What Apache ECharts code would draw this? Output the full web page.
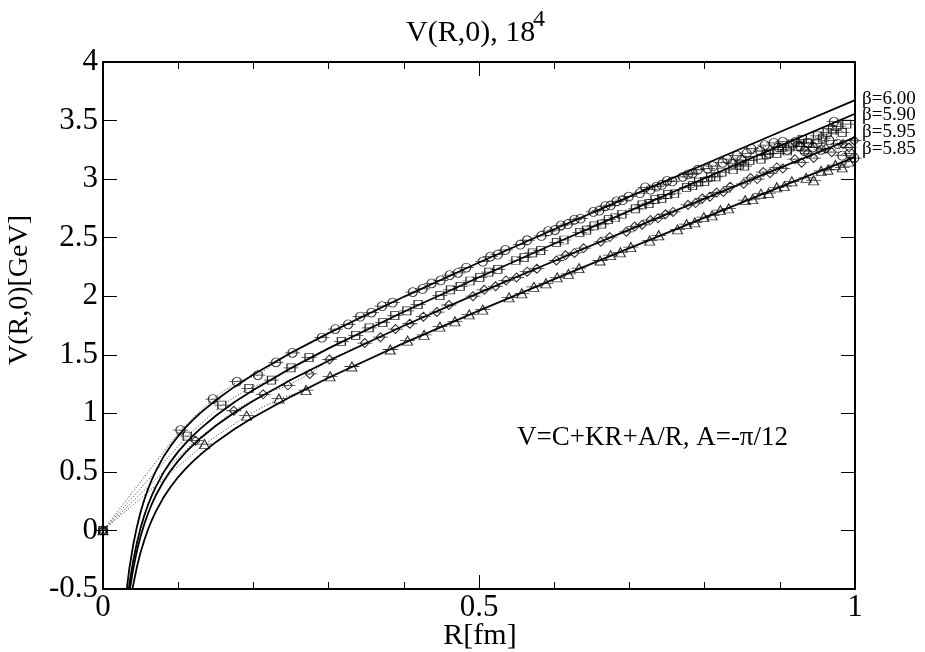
<!DOCTYPE html>
<html><head><meta charset="utf-8">
<script src="https://cdn.jsdelivr.net/npm/echarts@6/dist/echarts.min.js"></script>
<style>html,body{margin:0;padding:0;background:#fff}#c{width:925px;height:652px}</style>
</head><body><div id="c"></div>
<script>
// ---- tick labels / text ----
const xTicks = [0, 0.5, 1];
const yTicks = [-0.5, 0, 0.5, 1, 1.5, 2, 2.5, 3, 3.5, 4];
const seriesNames = ['β=6.00', 'β=5.90', 'β=5.95', 'β=5.85'];

// ---- fit curves V=C+KR+A/R ----
const fitR   = [0.03,0.035,0.04,0.045,0.05,0.055,0.06,0.065,0.07,0.08,0.09,0.1,0.11,0.12,0.13,0.15,0.175,0.2,0.25,0.3,0.4,0.5,0.6,0.7,0.8,0.9,1.0];
const fit600 = [-0.586,-0.326,-0.129,0.028,0.157,0.264,0.355,0.435,0.505,0.624,0.722,0.807,0.880,0.946,1.006,1.112,1.228,1.332,1.517,1.685,1.995,2.288,2.572,2.851,3.127,3.402,3.674];
const fit590 = [-0.721,-0.462,-0.264,-0.107,0.022,0.129,0.221,0.300,0.370,0.490,0.588,0.673,0.746,0.812,0.872,0.979,1.096,1.200,1.386,1.555,1.867,2.162,2.448,2.729,3.007,3.284,3.558];
const fit595 = [-0.790,-0.531,-0.334,-0.178,-0.050,0.056,0.147,0.226,0.296,0.414,0.511,0.594,0.666,0.731,0.790,0.894,1.007,1.108,1.287,1.449,1.748,2.029,2.301,2.569,2.834,3.096,3.357];
const fit585 = [-0.926,-0.668,-0.471,-0.314,-0.187,-0.081,0.010,0.089,0.159,0.276,0.373,0.456,0.528,0.592,0.650,0.754,0.866,0.966,1.143,1.304,1.599,1.877,2.146,2.410,2.671,2.931,3.188];

// ---- data points [R, V] ----
const data600 = [[0,0],[0.103,0.857],[0.146,1.122],[0.178,1.27],[0.206,1.327],[0.230,1.435],[0.252,1.517],[0.291,1.646],[0.309,1.72],[0.326,1.76],[0.342,1.825],[0.357,1.86],[0.371,1.915],[0.385,1.945],[0.412,2.035],[0.425,2.062],[0.437,2.11],[0.449,2.135],[0.461,2.18],[0.472,2.20],[0.483,2.245],[0.505,2.295],[0.515,2.338],[0.525,2.355],[0.535,2.395],[0.555,2.44],[0.564,2.478],[0.583,2.515],[0.592,2.555],[0.601,2.565],[0.609,2.605],[0.618,2.615],[0.627,2.655],[0.635,2.662],[0.652,2.72],[0.660,2.73],[0.668,2.77],[0.675,2.775],[0.683,2.81],[0.691,2.82],[0.699,2.85],[0.714,2.88],[0.721,2.93],[0.728,2.91],[0.736,2.935],[0.743,2.95],[0.750,2.985],[0.757,2.98],[0.771,3.02],[0.778,3.04],[0.784,3.05],[0.791,3.08],[0.804,3.09],[0.811,3.11],[0.824,3.14],[0.830,3.17],[0.837,3.13],[0.843,3.20],[0.849,3.163],[0.856,3.22],[0.862,3.26],[0.874,3.24],[0.880,3.29],[0.886,3.22],[0.892,3.31],[0.898,3.27],[0.904,3.32],[0.910,3.25],[0.921,3.32],[0.927,3.28],[0.933,3.24],[0.938,3.31],[0.944,3.27],[0.950,3.306],[0.955,3.25],[0.966,3.33],[0.972,3.49],[0.977,3.30],[0.983,3.20],[0.993,3.22],[0.999,3.18]];
const data590 = [[0,0],[0.112,0.806],[0.158,1.071],[0.194,1.213],[0.224,1.284],[0.250,1.389],[0.274,1.475],[0.317,1.615],[0.336,1.665],[0.354,1.73],[0.372,1.775],[0.388,1.835],[0.404,1.875],[0.419,1.93],[0.448,2.005],[0.462,2.055],[0.475,2.085],[0.488,2.13],[0.501,2.16],[0.513,2.205],[0.525,2.23],[0.549,2.305],[0.560,2.33],[0.571,2.37],[0.582,2.39],[0.603,2.46],[0.613,2.48],[0.634,2.545],[0.643,2.565],[0.653,2.60],[0.663,2.615],[0.672,2.655],[0.681,2.67],[0.690,2.70],[0.708,2.745],[0.717,2.78],[0.726,2.79],[0.734,2.825],[0.743,2.835],[0.751,2.87],[0.760,2.875],[0.776,2.93],[0.784,2.945],[0.792,2.975],[0.800,2.98],[0.808,3.02],[0.815,3.02],[0.823,3.06],[0.838,3.08],[0.846,3.12],[0.853,3.11],[0.860,3.16],[0.875,3.17],[0.882,3.21],[0.896,3.22],[0.903,3.27],[0.910,3.24],[0.917,3.30],[0.924,3.28],[0.930,3.34],[0.937,3.31],[0.950,3.37],[0.957,3.35],[0.963,3.40],[0.970,3.42],[0.976,3.45],[0.983,3.40],[0.989,3.47]];
const data595 = [[0,0],[0.123,0.766],[0.174,1.022],[0.213,1.162],[0.246,1.239],[0.275,1.336],[0.301,1.46],[0.348,1.60],[0.369,1.65],[0.389,1.72],[0.408,1.765],[0.426,1.825],[0.444,1.865],[0.460,1.925],[0.492,2.00],[0.507,2.055],[0.522,2.085],[0.536,2.135],[0.550,2.16],[0.564,2.21],[0.577,2.235],[0.603,2.305],[0.615,2.35],[0.627,2.37],[0.639,2.41],[0.662,2.465],[0.674,2.505],[0.696,2.55],[0.707,2.595],[0.717,2.61],[0.728,2.65],[0.738,2.665],[0.748,2.70],[0.758,2.72],[0.778,2.78],[0.788,2.795],[0.797,2.835],[0.807,2.85],[0.816,2.885],[0.825,2.89],[0.834,2.935],[0.852,2.96],[0.861,3.01],[0.870,3.00],[0.878,3.06],[0.887,3.05],[0.896,3.10],[0.904,3.09],[0.920,3.17],[0.929,3.14],[0.937,3.22],[0.945,3.18],[0.961,3.26],[0.969,3.23],[0.984,3.30],[0.992,3.27],[0.999,3.33]];
const data585 = [[0,0],[0.135,0.738],[0.191,0.98],[0.234,1.125],[0.270,1.199],[0.302,1.315],[0.331,1.40],[0.382,1.545],[0.405,1.62],[0.427,1.67],[0.448,1.74],[0.468,1.785],[0.487,1.845],[0.505,1.885],[0.540,1.99],[0.557,2.025],[0.573,2.08],[0.589,2.11],[0.604,2.16],[0.619,2.19],[0.633,2.24],[0.661,2.305],[0.675,2.35],[0.688,2.375],[0.702,2.42],[0.727,2.475],[0.739,2.52],[0.764,2.57],[0.776,2.615],[0.787,2.63],[0.799,2.675],[0.810,2.69],[0.821,2.735],[0.832,2.75],[0.854,2.82],[0.864,2.83],[0.875,2.875],[0.885,2.88],[0.896,2.93],[0.906,2.94],[0.916,2.98],[0.935,3.01],[0.945,2.99],[0.955,3.07],[0.964,3.08],[0.974,3.12],[0.983,3.10],[0.992,3.15]];

const SERIF = '"Liberation Serif","Times New Roman",serif';
const symCircle  = 'path://M0 4.5L15 4.5M12 4.5C12 6.985 9.985 9 7.5 9C5.015 9 3 6.985 3 4.5C3 2.015 5.015 0 7.5 0C9.985 0 12 2.015 12 4.5Z';
const symSquare  = 'path://M0 4L15 4M3.5 0L11.5 0L11.5 8L3.5 8Z';
const symDiamond = 'path://M0 4.5L15 4.5M7.5 0L12 4.5L7.5 9L3 4.5Z';
const symTri     = 'path://M0 4.5L15 4.5M7.5 0L12.5 9L2.5 9Z';

const groups = [
  {d: data600, f: fit600, sym: symCircle,  size: [15, 9]},
  {d: data590, f: fit590, sym: symSquare,  size: [15, 8]},
  {d: data595, f: fit595, sym: symDiamond, size: [15, 9]},
  {d: data585, f: fit585, sym: symTri,     size: [15, 9]}
];

const series = [];
groups.forEach((g, i) => {
  series.push({type: 'line', name: seriesNames[i] + ' fit', data: fitR.map((r, k) => [r, g.f[k]]),
    smooth: false, symbol: 'none', clip: true, silent: true, z: 2,
    lineStyle: {color: '#000', width: 1.8}});
  series.push({type: 'line', name: seriesNames[i] + ' dots', data: g.d, symbol: 'none', clip: true, silent: true, z: 2,
    lineStyle: {color: '#333', width: 1, type: [1, 2]}});
  series.push({type: 'scatter', name: seriesNames[i], data: g.d, symbol: g.sym, symbolSize: g.size, clip: true, z: 3,
    itemStyle: {color: 'rgba(0,0,0,0)', borderColor: '#000', borderWidth: 1}});
});

const axisCommon = {
  type: 'value', min: 0, max: 1, interval: 0.5,
  axisLine: {show: true, onZero: false, lineStyle: {color: '#000', width: 2}},
  axisTick: {show: true, inside: true, length: 14, lineStyle: {color: '#000', width: 1}},
  minorTick: {show: true, splitNumber: 5, length: 7, lineStyle: {color: '#000', width: 1}},
  splitLine: {show: false}, minorSplitLine: {show: false}
};
const yCommon = {
  type: 'value', min: -0.5, max: 4, interval: 0.5,
  axisLine: {show: true, onZero: false, lineStyle: {color: '#000', width: 2}},
  axisTick: {show: true, inside: true, length: 14, lineStyle: {color: '#000', width: 1}},
  splitLine: {show: false}
};

const chart = echarts.init(document.getElementById('c'), null, {renderer: 'canvas'});
chart.setOption({
  animation: false,
  backgroundColor: '#fff',
  grid: {left: 103, right: 70, top: 62, bottom: 63, containLabel: false, outerBoundsMode: 'none'},
  xAxis: [
    Object.assign({}, axisCommon, {position: 'bottom',
      axisLabel: {show: true, margin: 3, color: '#000', fontFamily: SERIF, fontSize: 31,
        formatter: v => (xTicks.indexOf(v) >= 0 ? String(v) : '')}}),
    Object.assign({}, axisCommon, {position: 'top', axisLabel: {show: false}})
  ],
  yAxis: [
    Object.assign({}, yCommon, {position: 'left',
      axisLabel: {show: true, margin: 5, color: '#000', fontFamily: SERIF, fontSize: 31,
        formatter: v => (yTicks.indexOf(v) >= 0 ? String(v) : '')}}),
    Object.assign({}, yCommon, {position: 'right', axisLabel: {show: false}})
  ],
  series: series,
  graphic: [
    {type: 'text', x: 406, y: 33, silent: true,
      style: {text: 'V(R,0), 18', font: '30px ' + SERIF, fill: '#000', align: 'left', verticalAlign: 'middle', textAlign: 'left', textVerticalAlign: 'middle'}},
    {type: 'text', x: 533, y: 20, silent: true,
      style: {text: '4', font: '24px ' + SERIF, fill: '#000', align: 'left', verticalAlign: 'middle', textAlign: 'left', textVerticalAlign: 'middle'}},
    {type: 'text', x: 480, y: 636, silent: true,
      style: {text: 'R[fm]', font: '30px ' + SERIF, fill: '#000', align: 'center', verticalAlign: 'middle', textAlign: 'center', textVerticalAlign: 'middle'}},
    {type: 'text', x: 20, y: 290, rotation: Math.PI / 2, silent: true,
      style: {text: 'V(R,0)[GeV]', font: '28px ' + SERIF, fill: '#000', align: 'center', verticalAlign: 'middle', textAlign: 'center', textVerticalAlign: 'middle'}},
    {type: 'text', x: 788, y: 438, silent: true,
      style: {text: 'V=C+KR+A/R, A=-π/12', font: '27px ' + SERIF, fill: '#000', align: 'right', verticalAlign: 'middle', textAlign: 'right', textVerticalAlign: 'middle'}},
    {type: 'text', x: 862, y: 99, silent: true,
      style: {text: seriesNames[0], font: '19px ' + SERIF, fill: '#000', align: 'left', verticalAlign: 'middle', textAlign: 'left', textVerticalAlign: 'middle'}},
    {type: 'text', x: 862, y: 115.5, silent: true,
      style: {text: seriesNames[1], font: '19px ' + SERIF, fill: '#000', align: 'left', verticalAlign: 'middle', textAlign: 'left', textVerticalAlign: 'middle'}},
    {type: 'text', x: 862, y: 132, silent: true,
      style: {text: seriesNames[2], font: '19px ' + SERIF, fill: '#000', align: 'left', verticalAlign: 'middle', textAlign: 'left', textVerticalAlign: 'middle'}},
    {type: 'text', x: 862, y: 149, silent: true,
      style: {text: seriesNames[3], font: '19px ' + SERIF, fill: '#000', align: 'left', verticalAlign: 'middle', textAlign: 'left', textVerticalAlign: 'middle'}}
  ]
});
</script>
</body></html>
